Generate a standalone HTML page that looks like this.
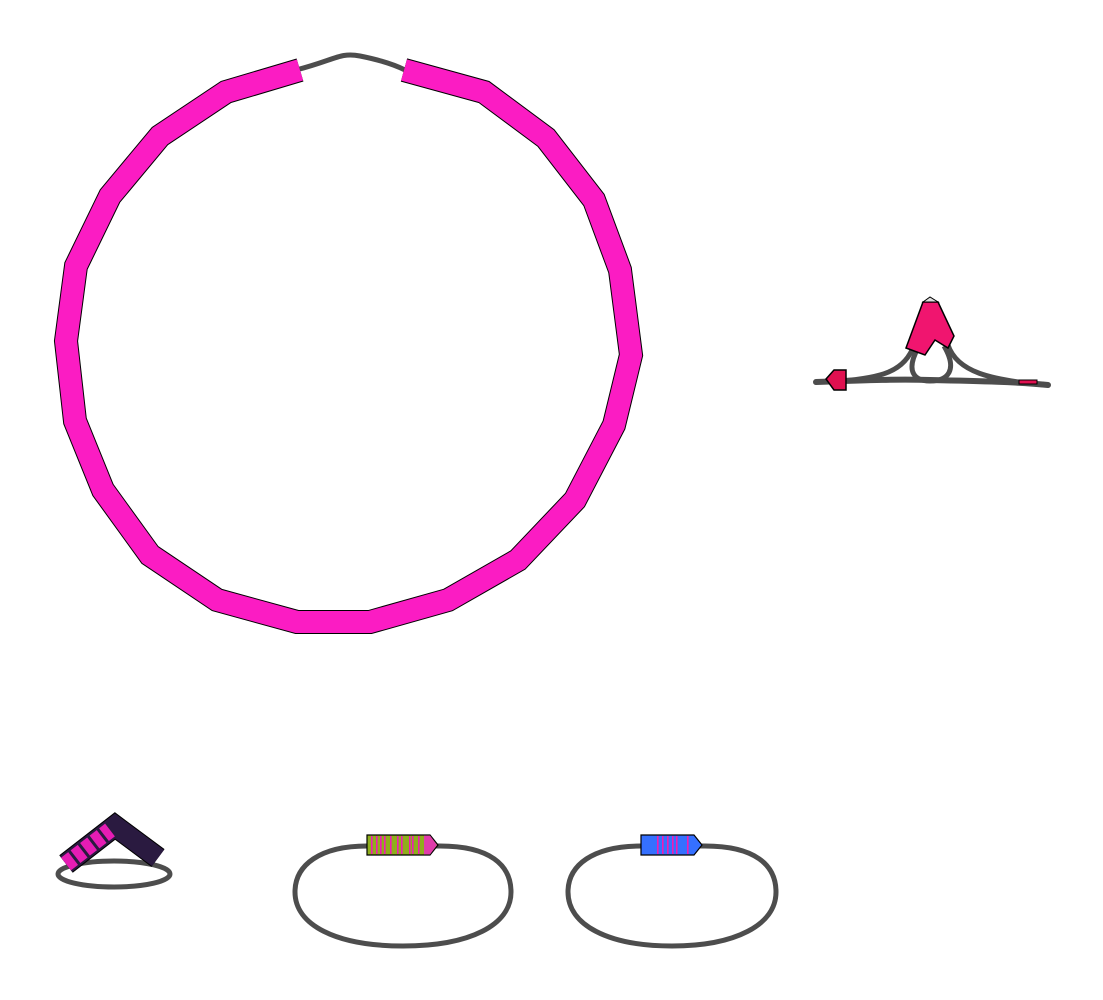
<!DOCTYPE html>
<html><head><meta charset="utf-8"><style>
html,body{margin:0;padding:0;background:#fff;}
svg{display:block;}
</style></head><body>
<svg id="g" width="1103" height="1000" viewBox="0 0 1103 1000" xmlns="http://www.w3.org/2000/svg">
  <g>
    <path d="M296,70 C335,60 340,52 360,56 C380,60 395,65 405,70" fill="none" stroke="#4d4d4d" stroke-width="5"/>
    <polyline id="ringOutline" fill="none" stroke="#000" stroke-width="24" stroke-linejoin="miter"/>
    <polyline id="ringFill" fill="none" stroke="#fb1cc3" stroke-width="22" stroke-linejoin="miter"/>
  </g>

  <g>
    <path d="M816,382 C870,380 900,379 930,380 C980,381 1020,382 1048,385" fill="none" stroke="#4d4d4d" stroke-width="6" stroke-linecap="round"/>
    <path d="M840,381 C880,378 905,372 914,345" fill="none" stroke="#4d4d4d" stroke-width="5"/>
    <path d="M948,345 C957,372 990,380 1045,385" fill="none" stroke="#4d4d4d" stroke-width="5"/>
    <path d="M918,348 C905,372 915,381 930,381 C948,381 958,370 944,346" fill="none" stroke="#4d4d4d" stroke-width="5"/>
    <polygon points="906,348 923,302 938,302 954,336 948,348 935,340 925,355" fill="#f0156f" stroke="#000" stroke-width="1.5"/>
    <polygon points="923,302 930,297 938,302" fill="#ddd" stroke="#000" stroke-width="1"/>
    <polygon points="826,379 834,370 846,370 846,390 834,390" fill="#e01050" stroke="#000" stroke-width="1.5"/>
    <rect x="1019" y="380" width="18" height="4" fill="#e01050" stroke="#000" stroke-width="1"/>
  </g>

  <g>
    <ellipse cx="114" cy="874" rx="56" ry="13" fill="none" stroke="#4d4d4d" stroke-width="5"/>
    <polyline points="66,864 115,826 158,858" fill="none" stroke="#000" stroke-width="22"/>
    <polyline points="66,864 115,826 158,858" fill="none" stroke="#2a1a40" stroke-width="20"/>
    <polyline points="66,864 110,830" fill="none" stroke="#e61cb4" stroke-width="16" stroke-dasharray="9 3"/>
  </g>

  <g>
    <path d="M367,846 L440,846 C490,846 511,865 511,892 C511,925 470,946 403,946 C336,946 295,925 295,892 C295,865 320,846 367,846 Z" fill="none" stroke="#4d4d4d" stroke-width="5"/>
    <polygon points="367,835 430,835 438,845 430,855 367,855" fill="#8fae1c" stroke="#000" stroke-width="1.2"/>
    <g id="midStripes"></g>
    <polygon points="424,835.6 430,835.6 437,845 430,854.4 424,854.4" fill="#e03caa"/>
  </g>

  <g>
    <path d="M641,846 L705,846 C755,846 776,865 776,892 C776,925 735,946 672,946 C608,946 568,925 568,892 C568,865 593,846 641,846 Z" fill="none" stroke="#4d4d4d" stroke-width="5"/>
    <polygon points="641,835 694,835 702,845 694,855 641,855" fill="#3570ff" stroke="#000" stroke-width="1.2"/>
    <g id="rightStripes"></g>
  </g>
</svg>
<script>
const ringX = [300,226,160,110,76,66,75,103,150,217,297,370,448,518,575,614,631,620,594,546,484,404];
const ringY = [70,92,136,196,266,341,421,490,555,600,622,622,600,560,500,425,355,270,200,138,92,70];
const midStripeX = [371,376,380,384,390,397,401,409,412,418];
const rightStripeX = [657,662,667,672,676,687];

const pts = ringX.map((x,i)=>x+','+ringY[i]).join(' ');
document.getElementById('ringOutline').setAttribute('points', pts);
document.getElementById('ringFill').setAttribute('points', pts);

const NS='http://www.w3.org/2000/svg';
function stripes(id, xs, color){
  const g=document.getElementById(id);
  xs.forEach(x=>{
    const r=document.createElementNS(NS,'rect');
    r.setAttribute('x',x);r.setAttribute('y',836);r.setAttribute('width',1.6);r.setAttribute('height',18);
    r.setAttribute('fill',color);
    
    
    g.appendChild(r);
  });
}
stripes('midStripes', midStripeX, '#f01cb4');
stripes('rightStripes', rightStripeX, '#f01cb4');
</script>
</body></html>
